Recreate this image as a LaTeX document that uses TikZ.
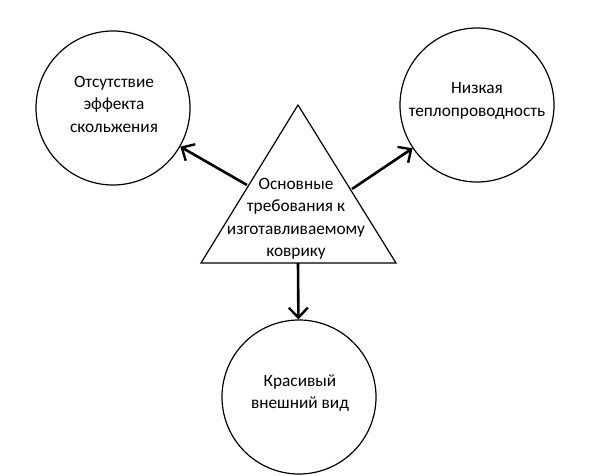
\documentclass[tikz,border=0pt]{standalone}
\usepackage{fontspec}
\setmainfont{Carlito}
\usetikzlibrary{arrows.meta}
\begin{document}
\begin{tikzpicture}[x=1pt,y=-1pt,
  circ/.style={circle,draw,line width=1.2pt,minimum size=154pt,inner sep=0pt},
  lbl/.style={align=center,font=\fontsize{17.3}{22.5}\selectfont},
  arr/.style={line width=2.6pt,-{Straight Barb[length=10pt,width=19pt,line width=2.4pt]}}]
\useasboundingbox (0,0) rectangle (600,476);
\node[circ] (L) at (113,108) {};
\node[circ] (R) at (477,105) {};
\node[circ] (B) at (299,397) {};
\node[lbl] at (114,104) {Отсутствие\\эффекта\\скольжения};
\node[lbl] at (477,101) {Низкая\\теплопроводность};
\node[lbl] at (300,393) {Красивый\\внешний вид};
\coordinate (tA) at (298,105);
\coordinate (tL) at (201,263);
\coordinate (tR) at (396,263);
\draw[line width=1.2pt,line join=miter] (tA) -- (tL) -- (tR) -- cycle;
\node[lbl] (T) at (296,219) {Основные\\требования к\\изготавливаемому\\коврику};
\coordinate (sL) at (247,185);
\coordinate (sR) at (352,189);
\coordinate (sB) at (298,263);
\draw[arr] (sL) -- (L);
\draw[arr] (sR) -- (R);
\draw[arr] (sB) -- (B);
\end{tikzpicture}
\end{document}
